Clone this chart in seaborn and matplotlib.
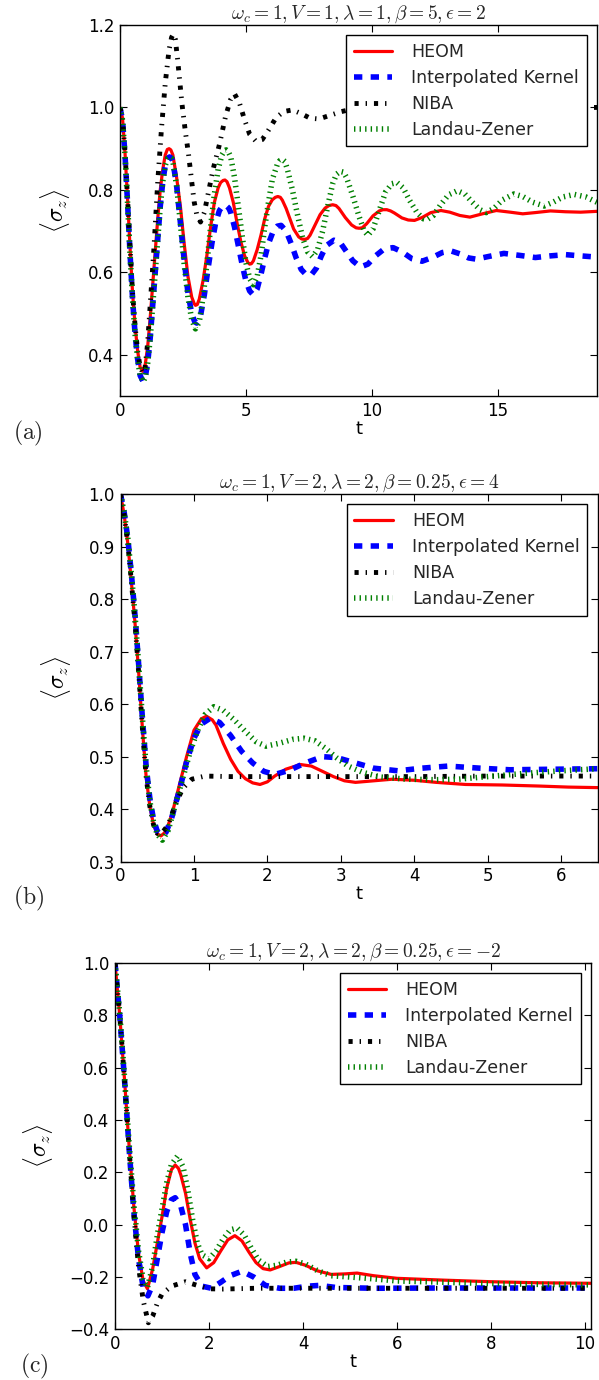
import numpy as np
import seaborn as sns
import matplotlib.pyplot as plt

# ---- panel (a): wc=1, V=1, lambda=1, beta=5, eps=2
ta_heom = [0, 0.1, 0.2, 0.3, 0.4, 0.5, 0.6, 0.7, 0.8, 0.9, 1.0, 1.1, 1.2, 1.3, 1.4, 1.5, 1.6, 1.7, 1.8, 1.88, 1.95,
           2.02, 2.1, 2.25, 2.4, 2.55, 2.7, 2.85, 2.95, 3.0, 3.07, 3.15, 3.3, 3.45, 3.6, 3.75, 3.9, 4.0, 4.1, 4.17, 4.25,
           4.35, 4.5, 4.65, 4.8, 4.95, 5.08, 5.15, 5.22, 5.3, 5.45, 5.6, 5.75, 5.9, 6.05, 6.17, 6.27, 6.37, 6.45, 6.6,
           6.75, 6.9, 7.1, 7.22, 7.33, 7.45, 7.55, 7.75, 7.95, 8.15, 8.3, 8.45, 8.58, 8.7, 8.95, 9.2, 9.38, 9.5, 9.62,
           9.8, 10.05, 10.3, 10.45, 10.6, 10.75, 10.9, 11.2, 11.45, 11.7, 12.0, 12.35, 12.75,
           13.1, 13.5, 13.9, 14.4, 14.95, 15.5, 16.0, 16.5, 17.1, 17.7, 18.3, 18.95]
ya_heom = [1.0, 0.975, 0.89, 0.78, 0.66, 0.55, 0.47, 0.41, 0.37, 0.36, 0.375, 0.42, 0.49, 0.57, 0.65, 0.73, 0.8, 0.85, 0.885, 0.898, 0.9,
           0.897, 0.885, 0.83, 0.76, 0.67, 0.59, 0.54, 0.524, 0.52, 0.522, 0.535, 0.58, 0.64, 0.71, 0.77, 0.805, 0.818, 0.823, 0.824, 0.82,
           0.805, 0.77, 0.72, 0.675, 0.64, 0.624, 0.62, 0.621, 0.628, 0.655, 0.69, 0.73, 0.76, 0.776, 0.782, 0.784, 0.782, 0.775, 0.755,
           0.73, 0.705, 0.686, 0.681, 0.68, 0.682, 0.69, 0.715, 0.74, 0.756, 0.762, 0.764, 0.762, 0.755, 0.733, 0.715, 0.708, 0.707, 0.708,
           0.718, 0.737, 0.749, 0.752, 0.752, 0.749, 0.744, 0.732, 0.727, 0.726, 0.733, 0.745, 0.75,
           0.746, 0.738, 0.734, 0.742, 0.75, 0.746, 0.742, 0.745, 0.749, 0.747, 0.746, 0.748]
ta_ik = [0, 0.1, 0.2, 0.3, 0.4, 0.5, 0.6, 0.7, 0.8, 0.92, 1.0, 1.1, 1.2, 1.3, 1.4, 1.5, 1.6, 1.7, 1.8, 1.9, 1.97,
         2.05, 2.1, 2.25, 2.4, 2.55, 2.7, 2.85, 2.97, 3.05, 3.12, 3.2, 3.35, 3.5, 3.65, 3.8, 3.95, 4.08, 4.2, 4.32,
         4.4, 4.55, 4.7, 4.85, 5.0, 5.15, 5.3, 5.45, 5.6, 5.75, 5.9, 6.1, 6.25, 6.4, 6.6, 6.8, 7.0, 7.2, 7.4, 7.6, 7.8,
         8.0, 8.2, 8.5, 8.75, 9.0, 9.25, 9.55, 9.85, 10.15, 10.5, 10.85, 11.2, 11.6, 12.0, 12.4, 12.8, 13.15, 13.5,
         13.85, 14.15, 14.6, 15.25, 15.9, 16.5, 17.1, 17.7, 18.3, 18.95]
ya_ik = [1.0, 0.97, 0.885, 0.77, 0.645, 0.535, 0.45, 0.39, 0.35, 0.335, 0.345, 0.38, 0.44, 0.52, 0.6, 0.68, 0.76, 0.82, 0.86, 0.877, 0.88,
         0.877, 0.87, 0.81, 0.72, 0.63, 0.55, 0.5, 0.48, 0.477, 0.482, 0.495, 0.545, 0.61, 0.67, 0.72, 0.75, 0.761, 0.763, 0.756,
         0.745, 0.71, 0.665, 0.62, 0.58, 0.555, 0.545, 0.56, 0.595, 0.635, 0.67, 0.702, 0.712, 0.714, 0.7, 0.67, 0.635, 0.607, 0.594, 0.594, 0.61,
         0.64, 0.665, 0.678, 0.672, 0.65, 0.628, 0.613, 0.62, 0.64, 0.657, 0.66, 0.65, 0.633, 0.627, 0.636, 0.648, 0.652, 0.645,
         0.635, 0.632, 0.638, 0.646, 0.641, 0.636, 0.64, 0.643, 0.64, 0.637]
ta_niba = [0, 0.1, 0.2, 0.3, 0.4, 0.5, 0.6, 0.7, 0.8, 0.92, 1.0, 1.1, 1.2, 1.35, 1.5, 1.65, 1.8, 1.95, 2.05, 2.12, 2.2, 2.3,
           2.46, 2.6, 2.72, 2.85, 2.95, 3.05, 3.2, 3.35, 3.5, 3.7, 3.95, 4.2, 4.4, 4.55, 4.75, 4.95, 5.15, 5.4,
           5.65, 5.9, 6.2, 6.5, 6.85, 7.2, 7.55, 7.9, 8.3, 8.8, 9.3, 10.0, 11.0, 12.0, 14.0, 16.0, 18.95]
ya_niba = [1.0, 0.975, 0.89, 0.78, 0.66, 0.55, 0.47, 0.41, 0.37, 0.355, 0.37, 0.43, 0.52, 0.66, 0.82, 0.95, 1.06, 1.14, 1.17, 1.178, 1.165, 1.11,
           1.01, 0.94, 0.888, 0.82, 0.77, 0.74, 0.722, 0.745, 0.79, 0.85, 0.91, 0.98, 1.02, 1.033, 1.01, 0.97, 0.935, 0.918,
           0.922, 0.945, 0.975, 0.99, 0.994, 0.985, 0.974, 0.972, 0.98, 0.99, 0.997, 0.999, 0.997, 0.999, 1.0, 1.0, 1.0]
ta_lz = [0, 0.1, 0.2, 0.3, 0.4, 0.5, 0.6, 0.7, 0.8, 0.92, 1.0, 1.1, 1.2, 1.3, 1.4, 1.5, 1.6, 1.7, 1.8, 1.9, 1.97,
         2.05, 2.1, 2.25, 2.4, 2.55, 2.7, 2.85, 3.0, 3.15, 3.3, 3.45, 3.6, 3.75, 3.9, 4.05, 4.15, 4.22, 4.3, 4.4, 4.55,
         4.7, 4.85, 5.0, 5.15, 5.3, 5.45, 5.6, 5.75, 5.9, 6.05, 6.25, 6.35, 6.45, 6.55, 6.65, 6.85, 7.05, 7.25, 7.45,
         7.65, 7.85, 8.05, 8.25, 8.45, 8.6, 8.75, 8.88, 9.0, 9.25, 9.5, 9.7, 9.85, 10.05, 10.3, 10.55, 10.8, 11.0,
         11.25, 11.5, 11.8, 12.05, 12.2, 12.45, 12.75, 13.05, 13.4, 13.7, 14.0, 14.3, 14.55, 14.85, 15.2, 15.65, 16.0,
         16.4, 16.85, 17.2, 17.6, 18.05, 18.5, 18.95]
ya_lz = [1.0, 0.97, 0.885, 0.77, 0.645, 0.535, 0.45, 0.39, 0.35, 0.335, 0.345, 0.38, 0.44, 0.52, 0.6, 0.68, 0.76, 0.82, 0.86, 0.877, 0.88,
         0.877, 0.87, 0.81, 0.72, 0.62, 0.54, 0.485, 0.463, 0.48, 0.54, 0.62, 0.71, 0.79, 0.85, 0.885, 0.895, 0.897, 0.893, 0.88, 0.83,
         0.76, 0.69, 0.625, 0.585, 0.57, 0.59, 0.64, 0.71, 0.77, 0.825, 0.862, 0.871, 0.874, 0.869, 0.85, 0.8, 0.74, 0.685, 0.65,
         0.638, 0.655, 0.7, 0.76, 0.815, 0.838, 0.845, 0.843, 0.83, 0.785, 0.735, 0.7, 0.69, 0.705, 0.75, 0.795, 0.815, 0.818,
         0.805, 0.775, 0.745, 0.73, 0.728, 0.738, 0.765, 0.788, 0.798, 0.79, 0.77, 0.752, 0.745, 0.755, 0.776, 0.79, 0.784,
         0.77, 0.761, 0.77, 0.783, 0.789, 0.783, 0.77]

# ---- panel (b): wc=1, V=2, lambda=2, beta=0.25, eps=4
tb_heom = [0, 0.05, 0.1, 0.15, 0.2, 0.25, 0.3, 0.35, 0.4, 0.45, 0.5, 0.55, 0.6, 0.65, 0.7, 0.8, 0.9, 1.0, 1.1, 1.17,
           1.25, 1.3, 1.4, 1.5, 1.6, 1.7, 1.8, 1.9, 2.0, 2.1, 2.25, 2.45, 2.6, 2.75, 2.9, 3.05, 3.2, 3.45, 3.7,
           4.0, 4.3, 4.7, 5.2, 5.7, 6.1, 6.5]
yb_heom = [1.0, 0.96, 0.905, 0.83, 0.75, 0.655, 0.55, 0.46, 0.405, 0.37, 0.353, 0.349, 0.355, 0.37, 0.39, 0.445, 0.5, 0.55, 0.572, 0.577,
           0.57, 0.56, 0.525, 0.495, 0.472, 0.458, 0.45, 0.447, 0.452, 0.463, 0.476, 0.485, 0.482, 0.472, 0.462, 0.454, 0.451, 0.454, 0.457,
           0.455, 0.451, 0.447, 0.446, 0.444, 0.442, 0.441]
tb_ik = [0, 0.05, 0.1, 0.15, 0.2, 0.25, 0.3, 0.35, 0.4, 0.45, 0.5, 0.56, 0.62, 0.7, 0.8, 0.9, 1.0, 1.1, 1.22, 1.35,
         1.5, 1.65, 1.8, 1.95, 2.1, 2.3, 2.5, 2.75, 2.95, 3.2, 3.45, 3.78, 4.1, 4.46, 4.9, 5.3, 5.9, 6.5]
yb_ik = [1.0, 0.965, 0.915, 0.845, 0.765, 0.67, 0.57, 0.48, 0.42, 0.38, 0.358, 0.35, 0.356, 0.385, 0.435, 0.49, 0.535, 0.562, 0.573, 0.565,
         0.54, 0.51, 0.488, 0.472, 0.466, 0.474, 0.487, 0.5, 0.498, 0.488, 0.478, 0.473, 0.478, 0.482, 0.478, 0.475, 0.476, 0.477]
tb_niba = [0, 0.05, 0.1, 0.15, 0.2, 0.25, 0.3, 0.35, 0.4, 0.45, 0.5, 0.55, 0.65, 0.75, 0.85, 0.97, 1.15, 1.5, 2.0, 3.0,
           4.0, 5.0, 6.5]
yb_niba = [1.0, 0.96, 0.905, 0.83, 0.75, 0.655, 0.55, 0.46, 0.405, 0.37, 0.354, 0.352, 0.37, 0.41, 0.44, 0.457, 0.463, 0.462, 0.462, 0.462,
           0.462, 0.463, 0.463]
tb_lz = [0, 0.05, 0.1, 0.15, 0.2, 0.25, 0.3, 0.35, 0.4, 0.45, 0.5, 0.57, 0.65, 0.75, 0.85, 0.95, 1.05, 1.15, 1.27, 1.4,
         1.55, 1.7, 1.85, 1.98, 2.15, 2.35, 2.5, 2.65, 2.8, 2.95, 3.1, 3.3, 3.55, 3.9, 4.3, 4.6, 5.0, 5.5, 6.0, 6.5]
yb_lz = [1.0, 0.965, 0.915, 0.845, 0.765, 0.67, 0.57, 0.48, 0.415, 0.375, 0.352, 0.341, 0.36, 0.41, 0.46, 0.51, 0.55, 0.58, 0.595, 0.588,
         0.57, 0.548, 0.528, 0.52, 0.525, 0.533, 0.535, 0.53, 0.515, 0.497, 0.482, 0.47, 0.461, 0.457, 0.456, 0.457, 0.462, 0.468, 0.473, 0.477]

# ---- panel (c): wc=1, V=2, lambda=2, beta=0.25, eps=-2
tc_heom = [0, 0.1, 0.2, 0.3, 0.4, 0.5, 0.6, 0.69, 0.8, 0.92, 1.0, 1.1, 1.2, 1.28, 1.35, 1.4, 1.5, 1.6, 1.7, 1.8, 1.95,
           2.1, 2.25, 2.4, 2.55, 2.7, 2.85, 3.0, 3.15, 3.3, 3.5, 3.7, 3.85, 4.05, 4.3, 4.6, 4.9, 5.15, 5.5, 6.0,
           7.0, 8.0, 9.0, 10.13]
yc_heom = [1.0, 0.8, 0.56, 0.3, 0.07, -0.11, -0.215, -0.245, -0.17, -0.05, 0.03, 0.14, 0.21, 0.228, 0.215, 0.19, 0.12, 0.02, -0.07, -0.13, -0.165,
           -0.145, -0.1, -0.058, -0.042, -0.062, -0.105, -0.145, -0.168, -0.173, -0.16, -0.146, -0.144, -0.155, -0.176, -0.19, -0.188, -0.185, -0.195, -0.205,
           -0.212, -0.218, -0.222, -0.224]
tc_ik = [0, 0.1, 0.2, 0.3, 0.4, 0.5, 0.6, 0.7, 0.8, 0.9, 1.0, 1.1, 1.2, 1.28, 1.4, 1.5, 1.6, 1.7, 1.85, 2.05,
         2.25, 2.45, 2.7, 2.95, 3.2, 3.5, 3.8, 4.1, 4.35, 4.7, 5.5, 7.0, 8.5, 10.13]
yc_ik = [1.0, 0.8, 0.56, 0.29, 0.05, -0.13, -0.24, -0.272, -0.23, -0.13, -0.03, 0.05, 0.095, 0.103, 0.07, 0.0, -0.11, -0.19, -0.235, -0.243,
         -0.22, -0.195, -0.178, -0.2, -0.232, -0.243, -0.243, -0.235, -0.232, -0.24, -0.243, -0.242, -0.242, -0.242]
tc_niba = [0, 0.1, 0.2, 0.3, 0.4, 0.5, 0.6, 0.71, 0.8, 0.9, 1.0, 1.2, 1.5, 1.75, 2.0, 2.3, 3.0, 10.13]
yc_niba = [1.0, 0.8, 0.56, 0.29, 0.04, -0.16, -0.29, -0.375, -0.35, -0.3, -0.265, -0.235, -0.218, -0.232, -0.245, -0.246, -0.243, -0.243]
tc_lz = [0, 0.1, 0.2, 0.3, 0.4, 0.5, 0.6, 0.69, 0.8, 0.9, 1.0, 1.1, 1.2, 1.33, 1.45, 1.55, 1.65, 1.75, 1.85, 2.0,
         2.15, 2.3, 2.45, 2.6, 2.75, 2.9, 3.05, 3.25, 3.45, 3.65, 3.85, 4.05, 4.3, 4.6, 5.0, 5.5, 6.0, 7.0, 8.0,
         9.0, 10.13]
yc_lz = [1.0, 0.81, 0.57, 0.31, 0.08, -0.1, -0.21, -0.24, -0.16, -0.04, 0.06, 0.16, 0.23, 0.262, 0.22, 0.13, 0.02, -0.07, -0.115, -0.13,
         -0.1, -0.055, -0.02, -0.013, -0.04, -0.09, -0.135, -0.16, -0.155, -0.143, -0.14, -0.15, -0.175, -0.195, -0.2, -0.207, -0.215, -0.22, -0.225,
         -0.228, -0.23]

labels = ["HEOM", "Interpolated Kernel", "NIBA", "Landau-Zener"]
titles = [r"$\omega_c=1,V=1,\lambda=1,\beta=5,\epsilon=2$",
          r"$\omega_c=1,V=2,\lambda=2,\beta=0.25,\epsilon=4$",
          r"$\omega_c=1,V=2,\lambda=2,\beta=0.25,\epsilon=-2$"]
panel_tags = ["(a)", "(b)", "(c)"]

sns.set_style("ticks")
plt.rcParams["font.family"] = ["DejaVu Sans"]
plt.rcParams["mathtext.fontset"] = "cm"
plt.rcParams["lines.scale_dashes"] = False
plt.rcParams["xtick.direction"] = "in"
plt.rcParams["ytick.direction"] = "in"
plt.rcParams["xtick.top"] = True
plt.rcParams["ytick.right"] = True
plt.rcParams["axes.edgecolor"] = "black"
plt.rcParams["xtick.color"] = "black"
plt.rcParams["ytick.color"] = "black"
plt.rcParams["axes.labelcolor"] = "black"

styles = [dict(color="r", lw=2.3, linestyle="-"),
          dict(color="b", lw=4, linestyle=(0, (6, 6))),
          dict(color="k", lw=3.5, linestyle=(0, (3, 5, 1, 5))),
          dict(color="g", lw=4, linestyle=(0, (1, 3)))]

fig = plt.figure(figsize=(5.99, 13.8), dpi=100)
# [left, bottom, width, height] in figure fractions
boxes = [[0.2003, 0.7130, 0.7964, 0.2689],
         [0.2012, 0.3756, 0.7967, 0.2664],
         [0.1920, 0.0367, 0.7950, 0.2655]]

panels = [
    [(ta_heom, ya_heom), (ta_ik, ya_ik), (ta_niba, ya_niba), (ta_lz, ya_lz)],
    [(tb_heom, yb_heom), (tb_ik, yb_ik), (tb_niba, yb_niba), (tb_lz, yb_lz)],
    [(tc_heom, yc_heom), (tc_ik, yc_ik), (tc_niba, yc_niba), (tc_lz, yc_lz)],
]
xlims = [(0, 18.95), (0, 6.5), (0, 10.13)]
ylims = [(0.3, 1.2), (0.3, 1.0), (-0.4, 1.0)]
xticks = [[0, 5, 10, 15], [0, 1, 2, 3, 4, 5, 6], [0, 2, 4, 6, 8, 10]]
yticks = [[0.4, 0.6, 0.8, 1.0, 1.2], np.arange(0.3, 1.01, 0.1), np.arange(-0.4, 1.01, 0.2)]
ylabel_x = [-0.10, -0.10, -0.125]


def fmt(v, pos):
    return f"{v:.1f}".replace("-", "\u2212")


for i in range(3):
    ax = fig.add_axes(boxes[i])
    for (tt, yy), lab, st in zip(panels[i], labels, styles):
        sns.lineplot(x=tt, y=yy, ax=ax, label=lab, estimator=None, sort=False, **st)
    ax.set_xlim(*xlims[i])
    ax.set_ylim(*ylims[i])
    ax.set_xticks(xticks[i])
    ax.set_yticks(yticks[i])
    ax.yaxis.set_major_formatter(plt.FuncFormatter(fmt))
    ax.tick_params(labelsize=12, length=5, width=0.8, pad=4)
    for s in ax.spines.values():
        s.set_linewidth(1.0)
    ax.set_title(titles[i], fontsize=14, pad=4)
    ax.set_xlabel("t", fontsize=13, labelpad=0)
    ax.set_ylabel(r"$\langle\sigma_z\rangle$", fontsize=17)
    ax.yaxis.set_label_coords(ylabel_x[i], 0.5)
    leg = ax.legend(loc="upper right", fontsize=12.5, frameon=True, fancybox=False,
                    edgecolor="black", framealpha=1, handlelength=2.2, handletextpad=1.1,
                    labelspacing=0.45, borderpad=0.45, borderaxespad=0.6)
    leg.get_frame().set_linewidth(1.0)
    ax.text(-0.225 if i < 2 else -0.2, -0.1, r"$\mathrm{" + panel_tags[i] + "}$",
            transform=ax.transAxes, fontsize=17, va="center", ha="left")

fig.savefig("out.png", dpi=100)
